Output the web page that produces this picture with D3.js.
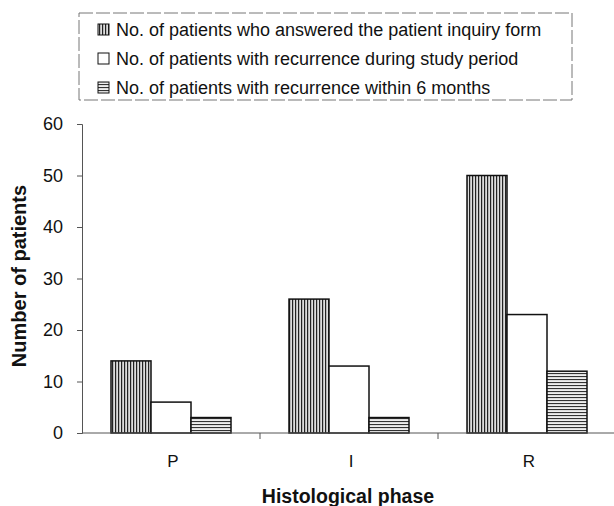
<!DOCTYPE html>
<meta charset="utf-8">
<style>
  body { margin: 0; background: #fff; }
  text { font-family: "Liberation Sans", Arial, sans-serif; fill: #111; }
</style>
<svg width="614" height="506"></svg>
<script src="https://d3js.org/d3.v7.min.js"></script>
<script>

var phases = ["P", "I", "R"];
var seriesNames = [
    "No. of patients who answered the patient inquiry form",
    "No. of patients with recurrence during study period",
    "No. of patients with recurrence within 6 months"
];
var answered = [14, 26, 50];
var recurStudy = [6, 13, 23];
var recur6m = [3, 3, 12];
var yTicks = [0, 10, 20, 30, 40, 50, 60];

var svg = d3.select("svg");

var margin = {left: 82, right: -2, top: 124, bottom: 73};
var width = 614 - margin.left - margin.right,
    height = 506 - margin.top - margin.bottom;

var defs = svg.append("defs");
var pv = defs.append("pattern").attr("id", "vert")
    .attr("patternUnits", "userSpaceOnUse").attr("width", 3).attr("height", 3);
pv.append("rect").attr("width", 3).attr("height", 3).attr("fill", "#ddd");
pv.append("rect").attr("width", 1.2).attr("height", 3).attr("fill", "#222");
var ph = defs.append("pattern").attr("id", "horiz")
    .attr("patternUnits", "userSpaceOnUse").attr("width", 3).attr("height", 3);
ph.append("rect").attr("width", 3).attr("height", 3).attr("fill", "#eee");
ph.append("rect").attr("width", 3).attr("height", 1.1).attr("fill", "#333");

var fills = ["url(#vert)", "#fff", "url(#horiz)"];
var series = [answered, recurStudy, recur6m];

var g = svg.append("g").attr("transform", "translate(" + margin.left + "," + margin.top + ")");

var x = d3.scaleBand().domain(phases).range([0, 534]);
var xs = d3.scaleBand().domain([0, 1, 2]).range([0, 120]);
var y = d3.scaleLinear().domain([0, 60]).range([height, 0]);

// bars
phases.forEach(function (p, i) {
    var off = x(p) + (x.bandwidth() - 120) / 2;
    series.forEach(function (s, j) {
        g.append("rect")
            .attr("x", off + xs(j))
            .attr("y", y(s[i]))
            .attr("width", xs.bandwidth())
            .attr("height", height - y(s[i]))
            .attr("fill", fills[j])
            .attr("stroke", "#111")
            .attr("stroke-width", 1.5);
    });
});

// y axis
var yAxis = g.append("g")
    .call(d3.axisLeft(y).tickValues(yTicks).tickSize(5).tickPadding(14));
yAxis.select(".domain").attr("stroke", "#555");
yAxis.selectAll(".tick line").attr("stroke", "#555");
yAxis.selectAll("text").style("font-size", "18px").attr("fill", "#111");

// x axis
g.append("line").attr("x1", 0).attr("x2", 534).attr("y1", height).attr("y2", height)
    .attr("stroke", "#555");
phases.slice(1).forEach(function (p) {
    g.append("line").attr("x1", x(p)).attr("x2", x(p))
        .attr("y1", height).attr("y2", height + 6).attr("stroke", "#555");
});
phases.forEach(function (p) {
    g.append("text").attr("x", x(p) + x.bandwidth() / 2 + 2).attr("y", height + 34)
        .attr("text-anchor", "middle").style("font-size", "17px").text(p);
});

// axis titles
svg.append("text").attr("x", 348).attr("y", 503).attr("text-anchor", "middle")
    .style("font-size", "19.5px").style("font-weight", "bold").text("Histological phase");
svg.append("text").attr("transform", "translate(26,276) rotate(-90)")
    .attr("text-anchor", "middle")
    .style("font-size", "20px").style("font-weight", "bold").text("Number of patients");

// legend
svg.append("rect").attr("x", 79).attr("y", 13).attr("width", 493).attr("height", 87)
    .attr("fill", "none").attr("stroke", "#777").attr("stroke-dasharray", "14,3");
seriesNames.forEach(function (n, j) {
    var ly = 30 + j * 29;
    svg.append("rect").attr("x", 98).attr("y", ly - 6).attr("width", 11).attr("height", 11)
        .attr("fill", fills[j]).attr("stroke", "#111").attr("stroke-width", 1);
    svg.append("text").attr("x", 116).attr("y", ly + 6)
        .style("font-size", "18px").text(n);
});

</script>
